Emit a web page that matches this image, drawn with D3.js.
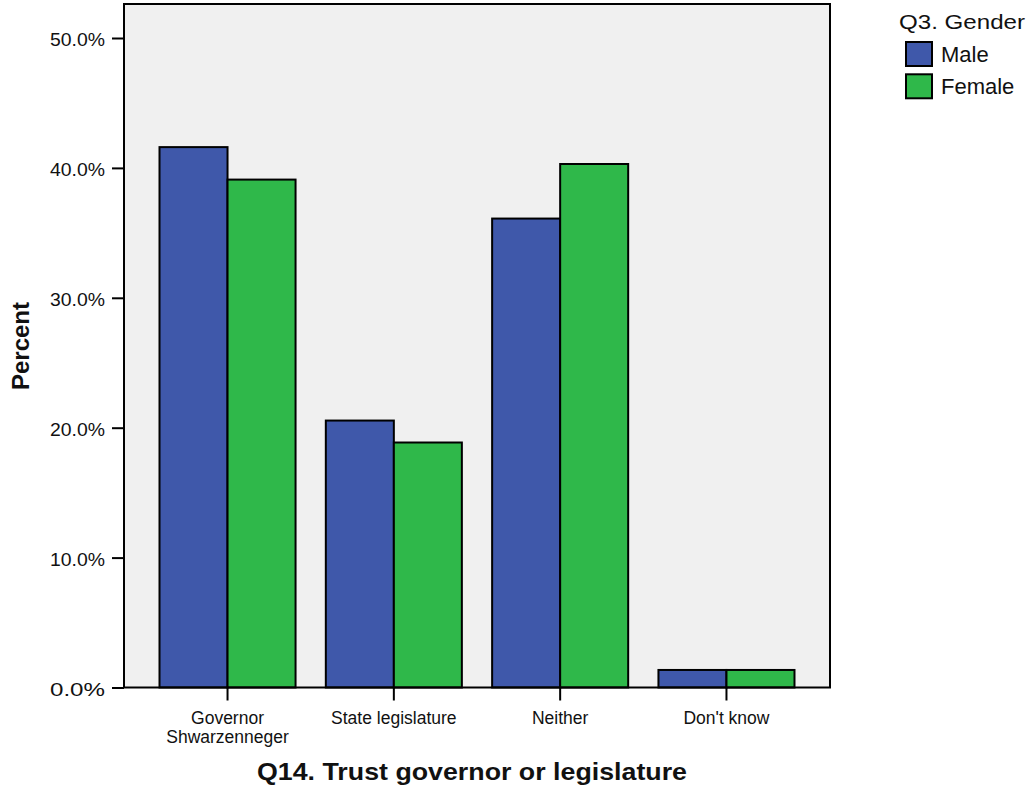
<!DOCTYPE html>
<html><head><meta charset="utf-8">
<script src="https://cdn.jsdelivr.net/npm/d3@7"></script>
<style>
body{margin:0;background:#fff;}
svg{display:block;font-family:"Liberation Sans",Arial,sans-serif;}
</style></head>
<body>
<svg id="chart" width="1033" height="786"></svg>
<script>
const categories = [["Governor","Shwarzenneger"],["State legislature"],["Neither"],["Don't know"]];
const categoryKeys = ["Governor Shwarzenneger","State legislature","Neither","Don't know"];
const seriesNames = ["Male","Female"];
const maleValues = [0.416, 0.2055, 0.361, 0.0135];
const femaleValues = [0.391, 0.1886, 0.403, 0.0135];
const yTicks = [0, 0.1, 0.2, 0.3, 0.4, 0.5];
const colors = ["#3f58aa", "#2fb84a"];

const svg = d3.select("#chart");
const L = 124, R = 830, T = 4, B = 687.5;

const x = d3.scaleBand().domain(categoryKeys).range([L, R]).paddingInner(0.182).paddingOuter(0.2135);
const xs = d3.scaleBand().domain(seriesNames).range([0, x.bandwidth()]);
const y = d3.scaleLinear().domain([0, 0.5]).range([B, 38]);

svg.append("rect").attr("x", L).attr("y", T).attr("width", R - L).attr("height", B - T)
  .attr("fill", "#f0f0f0");

const data = categoryKeys.map((c, i) => ({cat: c, vals: [maleValues[i], femaleValues[i]]}));

const g = svg.append("g");
data.forEach(d => {
  d.vals.forEach((v, j) => {
    g.append("rect")
      .attr("x", x(d.cat) + xs(seriesNames[j]))
      .attr("y", y(v))
      .attr("width", xs.bandwidth())
      .attr("height", y(0) - y(v))
      .attr("fill", colors[j])
      .attr("stroke", "#000")
      .attr("stroke-width", 2);
  });
});

svg.append("rect").attr("x", L).attr("y", T).attr("width", R - L).attr("height", B - T)
  .attr("fill", "none").attr("stroke", "#000").attr("stroke-width", 2);

const yAxis = d3.axisLeft(y).tickValues(yTicks).tickFormat(d3.format(".1%")).tickSize(12).tickPadding(7);
const ya = svg.append("g").attr("transform", `translate(${L},0)`).call(yAxis);
ya.select(".domain").remove();
ya.selectAll(".tick line").attr("stroke", "#000").attr("stroke-width", 2);
ya.selectAll(".tick text").attr("font-size", 18).attr("fill", "#111").attr("dy", "0.42em")
  .attr("textLength", 55).attr("lengthAdjust", "spacingAndGlyphs")
  .attr("font-family", "Liberation Sans, Arial, sans-serif");

const xAxis = d3.axisBottom(x).tickSize(13).tickFormat("");
const xa = svg.append("g").attr("transform", `translate(0,${B})`).call(xAxis);
xa.select(".domain").remove();
xa.selectAll(".tick line").attr("stroke", "#000").attr("stroke-width", 2);

categoryKeys.forEach((c, i) => {
  const cx = x(c) + x.bandwidth() / 2;
  categories[i].forEach((line, k) => {
    svg.append("text").attr("x", cx).attr("y", 723.5 + k * 19)
      .attr("text-anchor", "middle").attr("font-size", 17.5).attr("fill", "#111")
      .text(line);
  });
});

svg.append("text").attr("x", (L + R) / 2 - 5).attr("y", 780).attr("text-anchor", "middle")
  .attr("font-size", 24).attr("font-weight", "bold").attr("fill", "#111")
  .attr("textLength", 430).attr("lengthAdjust", "spacingAndGlyphs")
  .text("Q14. Trust governor or legislature");

svg.append("text").attr("transform", `translate(29,346) rotate(-90)`).attr("text-anchor", "middle")
  .attr("font-size", 23).attr("font-weight", "bold").attr("fill", "#111")
  .attr("textLength", 88).attr("lengthAdjust", "spacingAndGlyphs")
  .text("Percent");

const lg = svg.append("g");
lg.append("text").attr("x", 899).attr("y", 29).attr("font-size", 21).attr("fill", "#111")
  .attr("textLength", 126).attr("lengthAdjust", "spacingAndGlyphs").text("Q3. Gender");
seriesNames.forEach((s, i) => {
  lg.append("rect").attr("x", 906).attr("y", 42 + i * 32.3).attr("width", 26).attr("height", 24)
    .attr("fill", colors[i]).attr("stroke", "#000").attr("stroke-width", 2);
  lg.append("text").attr("x", 941).attr("y", 62 + i * 31.5).attr("font-size", 22).attr("fill", "#111")
    .text(s);
});
</script>
</body></html>
